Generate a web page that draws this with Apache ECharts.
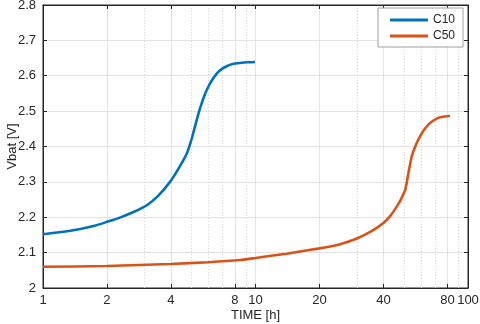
<!DOCTYPE html>
<html>
<head>
<meta charset="utf-8">
<script src="https://cdn.jsdelivr.net/npm/echarts@6/dist/echarts.min.js"></script>
<style>
  html, body { margin: 0; padding: 0; background: #fff; }
  #chart { width: 480px; height: 324px; }
</style>
</head>
<body>
<div id="chart"></div>
<script>
// values
var c10Time = [1, 1.25, 1.5, 1.75, 2, 2.3, 2.65, 3.08, 3.5, 3.96, 4.35, 4.75, 5.0, 5.15, 5.29, 5.43, 5.58, 5.78, 6.0, 6.25, 6.57, 6.9, 7.32, 7.8, 8.45, 9.2, 9.95];
var c10Vbat = [2.152, 2.159, 2.167, 2.176, 2.187, 2.199, 2.214, 2.234, 2.262, 2.300, 2.338, 2.380, 2.420, 2.449, 2.475, 2.500, 2.522, 2.548, 2.569, 2.588, 2.606, 2.618, 2.627, 2.633, 2.636, 2.638, 2.639];
var c50Time = [1, 2, 4, 6, 8.45, 10, 14, 20, 25, 30, 35, 40, 43, 46.2, 48.5, 50.8, 52.4, 54.3, 57.3, 60, 62.8, 66.5, 71.3, 76, 82.3];
var c50Vbat = [2.060, 2.062, 2.068, 2.073, 2.079, 2.085, 2.097, 2.112, 2.124, 2.140, 2.160, 2.184, 2.203, 2.230, 2.252, 2.280, 2.324, 2.371, 2.409, 2.433, 2.451, 2.467, 2.479, 2.484, 2.486];

var majorTicks = [1, 2, 4, 8, 10, 20, 40, 80, 100];
var minorTicks = [3, 5, 6, 7, 9, 30, 50, 60, 70, 90];

function pairs(xs, ys) {
  return xs.map(function (x, i) { return [x, ys[i]]; });
}

var txt = '#262626';
var font = 'Liberation Sans, Arial, sans-serif';

var chart = echarts.init(document.getElementById('chart'));
var option = {
  animation: false,
  grid: { left: 43, right: 12, top: 5, bottom: 36, outerBoundsMode: 'none', show: true, borderColor: '#262626', borderWidth: 1 },
  legend: {
    data: ['C10', 'C50'],
    orient: 'vertical',
    right: 17, top: 8,
    backgroundColor: '#fff',
    borderColor: '#a0a0a0', borderWidth: 1,
    padding: [6, 8, 5, 12],
    itemGap: 4,
    icon: 'rect',
    itemWidth: 38, itemHeight: 3,
    textStyle: { color: txt, fontSize: 12, fontFamily: font }
  },
  xAxis: [
    {
      type: 'log', logBase: 10, min: 1, max: 100,
      name: 'TIME [h]', nameLocation: 'middle', nameGap: 21, nameMoveOverlap: false,
      nameTextStyle: { color: txt, fontSize: 13, fontFamily: font },
      axisLine: { lineStyle: { color: '#262626' } },
      axisTick: { inside: true, length: 4, customValues: majorTicks, lineStyle: { color: '#262626' } },
      axisLabel: { customValues: majorTicks, color: txt, fontSize: 13, fontFamily: font, margin: 6 },
      splitLine: { show: true, lineStyle: { color: '#e3e3e3', width: 1 } }
    },
    {
      type: 'log', logBase: 10, min: 1, max: 100,
      axisLine: { show: false },
      axisTick: { show: true, length: 0, customValues: minorTicks, lineStyle: { color: 'rgba(0,0,0,0)' } },
      axisLabel: { show: false },
      splitLine: { show: true, lineStyle: { color: '#d6d6d6', width: 1, type: [1, 2] } }
    },
    {
      type: 'log', logBase: 10, min: 1, max: 100, position: 'top',
      axisLine: { lineStyle: { color: '#262626' } },
      axisTick: { inside: true, length: 4, customValues: majorTicks, lineStyle: { color: '#262626' } },
      axisLabel: { show: false },
      splitLine: { show: false }
    }
  ],
  yAxis: [
    {
      type: 'value', min: 2, max: 2.8, interval: 0.1,
      name: 'Vbat [V]', nameLocation: 'middle', nameGap: 24, nameMoveOverlap: false,
      nameTextStyle: { color: txt, fontSize: 13, fontFamily: font },
      axisLine: { show: true, lineStyle: { color: '#262626' } },
      axisTick: { show: true, inside: true, length: 4, lineStyle: { color: '#262626' } },
      axisLabel: { color: txt, fontSize: 13, fontFamily: font, margin: 7 },
      splitLine: { show: true, lineStyle: { color: '#e3e3e3', width: 1 } }
    },
    {
      type: 'value', min: 2, max: 2.8, interval: 0.1, position: 'right',
      axisLine: { show: true, lineStyle: { color: '#262626' } },
      axisTick: { show: true, inside: true, length: 4, lineStyle: { color: '#262626' } },
      axisLabel: { show: false },
      splitLine: { show: false }
    }
  ],
  series: [
    {
      name: 'C10', type: 'line', xAxisIndex: 0, yAxisIndex: 0,
      data: pairs(c10Time, c10Vbat),
      showSymbol: false, smooth: 0.15,
      lineStyle: { color: '#0072BD', width: 2.6 },
      itemStyle: { color: '#0072BD' }
    },
    {
      name: 'C50', type: 'line', xAxisIndex: 0, yAxisIndex: 0,
      data: pairs(c50Time, c50Vbat),
      showSymbol: false, smooth: 0.15,
      lineStyle: { color: '#D95319', width: 2.6 },
      itemStyle: { color: '#D95319' }
    }
  ]
};
option && chart.setOption(option);
</script>
</body>
</html>
